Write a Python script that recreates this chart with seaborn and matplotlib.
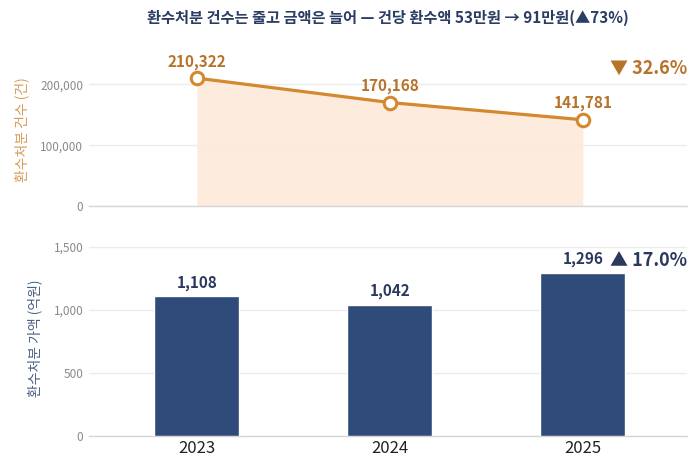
import numpy as np
import pandas as pd
import matplotlib
matplotlib.use("Agg")
import matplotlib.pyplot as plt
import seaborn as sns

years = ["2023", "2024", "2025"]
counts = [210322, 170168, 141781]
amounts = [1108, 1042, 1296]
title = "환수처분 건수는 줄고 금액은 늘어 — 건당 환수액 53만원 → 91만원(▲73%)"
count_label = "환수처분 건수 (건)"
amount_label = "환수처분 가액 (억원)"
count_change = "▼ 32.6%"
amount_change = "▲ 17.0%"

sns.set_theme(style="white")
plt.rcParams['font.family'] = ['Noto Sans CJK KR', 'DejaVu Sans']
plt.rcParams['axes.unicode_minus'] = False

ORANGE = "#d4882f"
ORANGE_TXT = "#b8732a"
ORANGE_LBL = "#d69a58"
FILL = "#fdeadb"
NAVY = "#2e4b7a"
NAVY_TXT = "#2b3a5c"
GRID = "#ececec"
TICK = "#8a8a8a"

df = pd.DataFrame({"year": years, "count": counts, "amount": amounts})
df["pos"] = np.arange(len(df))

fig = plt.figure(figsize=(6.99, 4.72), dpi=100)
ax1 = fig.add_axes([0.127, 0.5636, 0.856, 0.322])
ax2 = fig.add_axes([0.127, 0.0763, 0.856, 0.414])

# top: line with fill
ax1.fill_between(df["pos"], df["count"], 0, color=FILL, alpha=0.9, linewidth=0, zorder=1)
sns.lineplot(data=df, x="pos", y="count", ax=ax1, color=ORANGE, linewidth=2.3,
             marker="o", markersize=9, markerfacecolor="white",
             markeredgecolor=ORANGE, markeredgewidth=2.2, zorder=3)
for x, v in zip(df["pos"], df["count"]):
    ax1.annotate(f"{v:,}", (x, v), xytext=(0, 6), textcoords="offset points",
                 ha="center", va="bottom", fontsize=11, fontweight="bold", color=ORANGE_TXT)
ax1.set_xlim(-0.56, 2.54)
ax1.set_ylim(0, 250000)
ax1.set_yticks([0, 100000, 200000])
ax1.set_yticklabels([f"{t:,}" for t in [0, 100000, 200000]])
ax1.set_xticks([])
ax1.set_xlabel("")
ax1.set_ylabel(count_label, color=ORANGE_LBL, fontsize=10, labelpad=8)
ax1.text(1.0, 0.905, count_change, transform=ax1.transAxes, ha="right", va="center",
         fontsize=13, fontweight="bold", color=ORANGE_TXT)

# bottom: bars
sns.barplot(data=df, x="year", y="amount", ax=ax2, color=NAVY, width=0.44,
            saturation=1, zorder=3)
for x, v in zip(df["pos"], df["amount"]):
    ax2.annotate(f"{v:,}", (x, v), xytext=(0, 4), textcoords="offset points",
                 ha="center", va="bottom", fontsize=11, fontweight="bold", color=NAVY_TXT)
ax2.set_xlim(-0.56, 2.54)
ax2.set_ylim(0, 1550)
ax2.set_yticks([0, 500, 1000, 1500])
ax2.set_yticklabels([f"{t:,}" for t in [0, 500, 1000, 1500]])
ax2.set_xlabel("")
ax2.set_ylabel(amount_label, color="#4a5f85", fontsize=10, labelpad=8)
ax2.text(1.0, 0.90, amount_change, transform=ax2.transAxes, ha="right", va="center",
         fontsize=13, fontweight="bold", color=NAVY_TXT)

for ax in (ax1, ax2):
    for s in ["top", "right", "left"]:
        ax.spines[s].set_visible(False)
    ax.spines["bottom"].set_color("#d5d5d5")
    ax.spines["bottom"].set_linewidth(1)
    ax.grid(axis="y", color=GRID, linewidth=1, zorder=0)
    ax.set_axisbelow(True)
    ax.tick_params(axis="y", labelsize=8.5, labelcolor=TICK, length=0, pad=4)
    ax.tick_params(axis="x", length=0)
ax2.tick_params(axis="x", labelsize=12, labelcolor="#222222", pad=3)

fig.text(0.555, 0.962, title, ha="center", va="center", fontsize=11,
         fontweight="bold", color="#2b3d63")

fig.savefig("out.png", dpi=100, facecolor="white")
